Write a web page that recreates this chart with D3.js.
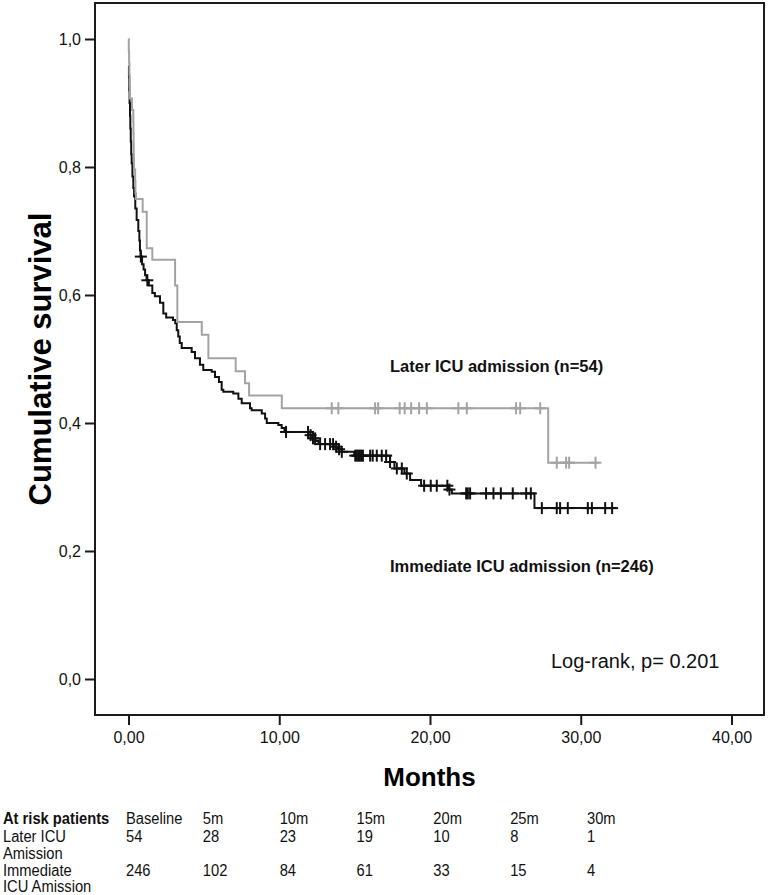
<!DOCTYPE html>
<html>
<head>
<meta charset="utf-8">
<script src="https://cdn.jsdelivr.net/npm/d3@7"></script>
<style>
  html, body { margin: 0; padding: 0; background: #fff; }
  svg { display: block; }
</style>
</head>
<body>
<svg id="chart" width="771" height="895"></svg>
<script>
// ---------------- DATA ----------------
const laterTimes = [0, 0.02, 0.04, 0.06, 0.08, 0.10, 0.23, 0.32, 0.33, 0.34, 0.35, 0.36, 0.44, 0.46, 0.50, 0.94, 1.21, 1.58, 3.09, 3.24, 4.86, 5.30, 7.11, 7.73, 8.00, 10.17, 27.84];
const laterSurv  = [1.0, 0.981, 0.963, 0.944, 0.926, 0.907, 0.889, 0.870, 0.852, 0.833, 0.815, 0.796, 0.778, 0.759, 0.750, 0.730, 0.673, 0.655, 0.615, 0.558, 0.538, 0.501, 0.481, 0.462, 0.443, 0.423, 0.338];
const laterEnd = 31.2;
const laterCensored = [13.48, 13.92, 16.36, 16.56, 17.99, 18.32, 18.75, 19.28, 19.79, 21.88, 22.44, 25.71, 25.98, 27.31, 28.41, 29.03, 29.23, 30.98];

const immTimes = [0, 0.03, 0.05, 0.07, 0.10, 0.12, 0.15, 0.18, 0.21, 0.26, 0.32, 0.37, 0.45, 0.54, 0.65, 0.72, 0.76, 0.80, 0.90, 1.00, 1.10, 1.20, 1.35, 1.58, 1.75, 2.09, 2.31, 2.50, 2.95, 3.10, 3.20, 3.30, 3.40, 3.53, 4.19, 4.41, 4.74, 4.96, 5.52, 5.74, 6.00, 6.18, 6.29, 6.95, 7.29, 7.51, 8.06, 8.17, 8.84, 9.06, 9.17, 9.94, 10.16, 10.35, 11.95, 12.20, 12.40, 12.60, 13.60, 13.90, 14.15, 14.97, 17.35, 17.64, 18.30, 18.68, 19.41, 21.25, 21.45, 26.93];
const immSurv  = [0.958, 0.940, 0.920, 0.900, 0.880, 0.860, 0.840, 0.820, 0.806, 0.785, 0.767, 0.754, 0.735, 0.717, 0.700, 0.685, 0.670, 0.660, 0.648, 0.640, 0.631, 0.623, 0.615, 0.603, 0.598, 0.588, 0.571, 0.565, 0.561, 0.556, 0.545, 0.535, 0.525, 0.517, 0.511, 0.501, 0.491, 0.483, 0.480, 0.472, 0.464, 0.452, 0.449, 0.446, 0.438, 0.431, 0.423, 0.420, 0.415, 0.407, 0.400, 0.397, 0.392, 0.386, 0.381, 0.376, 0.372, 0.367, 0.363, 0.359, 0.355, 0.349, 0.339, 0.329, 0.321, 0.311, 0.302, 0.296, 0.290, 0.267];
const immEnd = 32.35;
const immCensored = [0.82, 1.25, 10.45, 11.91, 12.08, 12.24, 12.38, 12.71, 13.04, 13.37, 13.57, 13.77, 13.97, 14.15, 15.04, 15.15, 15.25, 15.35, 15.45, 15.55, 16.03, 16.20, 16.47, 16.80, 17.09, 17.35, 17.80, 18.13, 18.46, 19.61, 20.05, 20.45, 21.15, 21.29, 22.40, 22.51, 22.66, 23.72, 24.21, 24.70, 25.49, 26.38, 26.69, 27.42, 28.41, 28.63, 29.14, 30.47, 30.74, 31.62, 32.08];

const xTicks = [0, 10, 20, 30, 40];
const yTicks = [0, 0.2, 0.4, 0.6, 0.8, 1.0];

const riskHeaders = ["Baseline", "5m", "10m", "15m", "20m", "25m", "30m"];
const laterRisk = [54, 28, 23, 19, 10, 8, 1];
const immRisk = [246, 102, 84, 61, 33, 15, 4];

// ---------------- LAYOUT ----------------
const svg = d3.select("#chart");
const frame = {left: 95, right: 764, top: 3, bottom: 715};
const x = d3.scaleLinear().domain([0, 40]).range([128.5, 731.5]);
const y = d3.scaleLinear().domain([0, 1]).range([679, 39]);
const FONT = "'Liberation Sans', Arial, Helvetica, sans-serif";
const fmt1 = v => d3.format(".1f")(v).replace(".", ",");
const fmt2 = v => d3.format(".2f")(v).replace(".", ",");

// Frame
svg.append("rect")
  .attr("x", frame.left).attr("y", frame.top)
  .attr("width", frame.right - frame.left).attr("height", frame.bottom - frame.top)
  .attr("fill", "none").attr("stroke", "#1a1a1a").attr("stroke-width", 2);

// Axes
const xAxis = d3.axisBottom(x).tickValues(xTicks).tickFormat(fmt2).tickSize(10).tickSizeOuter(0);
const gx = svg.append("g").attr("transform", `translate(0,${frame.bottom})`).call(xAxis);
gx.select(".domain").remove();
gx.selectAll(".tick line").attr("stroke", "#1a1a1a").attr("stroke-width", 2);
gx.selectAll(".tick text").attr("font-family", FONT).attr("font-size", 16).attr("fill", "#111").attr("dy", "1.35em").attr("y", 6);

const yAxis = d3.axisLeft(y).tickValues(yTicks).tickFormat(fmt1).tickSize(10).tickSizeOuter(0);
const gy = svg.append("g").attr("transform", `translate(${frame.left},0)`).call(yAxis);
gy.select(".domain").remove();
gy.selectAll(".tick line").attr("stroke", "#1a1a1a").attr("stroke-width", 2);
gy.selectAll(".tick text").attr("font-family", FONT).attr("font-size", 16).attr("fill", "#111").attr("x", -14);

// Step helper
function stepValue(times, surv, t) {
  let v = surv[0];
  for (let i = 0; i < times.length; i++) { if (times[i] <= t) v = surv[i]; }
  return v;
}
function buildPts(times, surv, end) {
  const pts = times.map((t, i) => [t, surv[i]]);
  pts.push([end, surv[surv.length - 1]]);
  return pts;
}
const line = d3.line().x(d => x(d[0])).y(d => y(d[1])).curve(d3.curveStepAfter);

// Immediate (black)
svg.append("path").datum(buildPts(immTimes, immSurv, immEnd))
  .attr("d", line).attr("fill", "none").attr("stroke", "#111").attr("stroke-width", 2);
// Later (gray)
svg.append("path").datum(buildPts(laterTimes, laterSurv, laterEnd))
  .attr("d", line).attr("fill", "none").attr("stroke", "#a3a3a3").attr("stroke-width", 2);

// Censor marks
function drawCensors(times, surv, cens, color) {
  const g = svg.append("g").attr("stroke", color).attr("stroke-width", 2);
  cens.forEach(t => {
    const cx = x(t), cy = y(stepValue(times, surv, t));
    g.append("line").attr("x1", cx).attr("x2", cx).attr("y1", cy - 6).attr("y2", cy + 6);
    g.append("line").attr("x1", cx - 6).attr("x2", cx + 6).attr("y1", cy).attr("y2", cy);
  });
}
drawCensors(immTimes, immSurv, immCensored, "#111");
drawCensors(laterTimes, laterSurv, laterCensored, "#a3a3a3");

// Labels
svg.append("text").attr("x", 390).attr("y", 372).attr("font-family", FONT).attr("font-weight", "bold")
  .attr("font-size", 16.5).attr("fill", "#111").text("Later ICU admission (n=54)");
svg.append("text").attr("x", 390).attr("y", 572).attr("font-family", FONT).attr("font-weight", "bold")
  .attr("font-size", 16.5).attr("fill", "#111").text("Immediate ICU admission (n=246)");
svg.append("text").attr("x", 551).attr("y", 668).attr("font-family", FONT)
  .attr("font-size", 20).attr("fill", "#111").text("Log-rank, p= 0.201");

// Axis titles
svg.append("text").attr("x", (frame.left + frame.right) / 2).attr("y", 786).attr("text-anchor", "middle")
  .attr("font-family", FONT).attr("font-weight", "bold").attr("font-size", 26).attr("fill", "#000").text("Months");
svg.append("text").attr("transform", `translate(51,${(frame.top + frame.bottom) / 2}) rotate(-90)`)
  .attr("text-anchor", "middle").attr("font-family", FONT).attr("font-weight", "bold")
  .attr("font-size", 31).attr("fill", "#000").text("Cumulative survival");

// At-risk table (condensed via horizontal scaling)
const SX = 0.92;
const col = d3.scaleLinear().domain([0, riskHeaders.length - 1]).range([126, 587]);
const tbl = svg.append("g").attr("transform", `scale(${SX},1)`)
  .attr("font-family", FONT).attr("font-size", 16).attr("fill", "#111");
const tx = v => v / SX;
tbl.append("text").attr("x", tx(3)).attr("y", 824).attr("font-weight", "bold").text("At risk patients");
tbl.selectAll(".hdr").data(riskHeaders).enter().append("text")
  .attr("x", (d, i) => tx(col(i))).attr("y", 824).text(d => d);
tbl.append("text").attr("x", tx(3)).attr("y", 842).text("Later ICU");
tbl.append("text").attr("x", tx(3)).attr("y", 859).text("Amission");
tbl.selectAll(".r1").data(laterRisk).enter().append("text")
  .attr("x", (d, i) => tx(col(i))).attr("y", 842).text(d => d);
tbl.append("text").attr("x", tx(3)).attr("y", 876).text("Immediate");
tbl.append("text").attr("x", tx(3)).attr("y", 892).text("ICU Amission");
tbl.selectAll(".r2").data(immRisk).enter().append("text")
  .attr("x", (d, i) => tx(col(i))).attr("y", 876).text(d => d);
</script>
</body>
</html>
